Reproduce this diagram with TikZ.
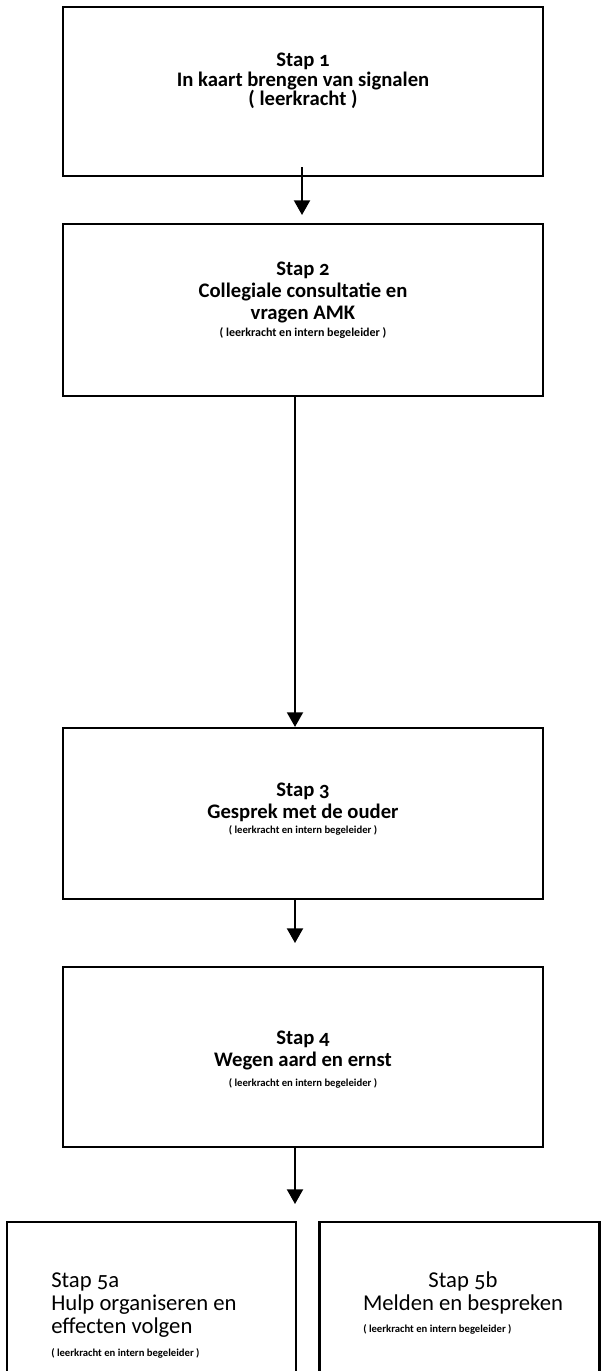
\documentclass[tikz,border=0pt]{standalone}
\usepackage{fontspec}
\setmainfont{Carlito}[Numbers=OldStyle]
\usetikzlibrary{arrows.meta,positioning}

\begin{document}
\begin{tikzpicture}[x=0.75pt,y=-0.75pt,>={Triangle[width=12pt,length=11pt]},
	stap node/.style={rectangle,draw,line width=1.6pt,minimum width=360pt,inner sep=0pt},
	stap text/.style={align=center,inner sep=0pt,font=\bfseries\fontsize{15.5}{16.5}\selectfont},
	role text/.style={inner sep=0pt,font=\bfseries\fontsize{8}{9}\selectfont},
	flow/.style={->,line width=1.5pt}]
	
	\useasboundingbox (0,0) rectangle (601,1371);
	
	\node[stap node,minimum height=126.75pt] (1) at (303,91.5) {};
	\node[stap node,minimum height=129pt] (2) at (303,310) {};
	\node[stap node,minimum height=128.25pt] (3) at (303,813.5) {};
	\node[stap node,minimum height=135pt] (4) at (303,1057) {};
	\node[stap node,minimum width=216.75pt,minimum height=208.5pt] (5a) at (151.5,1361) {};
	\node[stap node,minimum width=210pt,minimum height=208.5pt] (5b) at (459.5,1361) {};
	
	\node[stap text,font=\bfseries\fontsize{15.5}{14.5}\selectfont] (t1) at (303,81)
	{Stap 1\\In kaart brengen van signalen\\( leerkracht )};
	\node[stap text] (t2) at (303,292) {Stap 2\\Collegiale consultatie en\\vragen AMK};
	\node[role text,font=\bfseries\fontsize{9}{10}\selectfont] (r2) at (303,333) {( leerkracht en intern begeleider )};
	\node[stap text] (t3) at (303,802) {Stap 3\\Gesprek met de ouder};
	\node[role text] (r3) at (303,830) {( leerkracht en intern begeleider )};
	\node[stap text] (t4) at (303,1050) {Stap 4\\Wegen aard en ernst};
	\node[role text] (r4) at (303,1083) {( leerkracht en intern begeleider )};
	\node[stap text,align=left,font=\fontsize{17}{17}\selectfont] (t5a) at (51,1305) [anchor=west]
	{Stap 5a\\Hulp organiseren en\\effecten volgen};
	\node[role text] (r5a) at (51,1353) [anchor=west] {( leerkracht en intern  begeleider )};
	\node[stap text,font=\fontsize{17}{17}\selectfont] (t5b) at (463,1293) {Stap 5b\\Melden en bespreken};
	\node[role text] (r5b) at (363,1329) [anchor=west] {( leerkracht en intern  begeleider )};
	
	\coordinate (e1) at (302,215);
	\coordinate (e3) at (295,943);
	\coordinate (e4) at (295,1204);
	
	\draw[flow] (302,167) -- (e1);
	\draw[flow] ([xshift=-6pt]2.south) -- ([xshift=-6pt]3.north);
	\draw[flow] ([xshift=-6pt]3.south) -- (e3);
	\draw[flow] ([xshift=-6pt]4.south) -- (e4);
\end{tikzpicture}
\end{document}
